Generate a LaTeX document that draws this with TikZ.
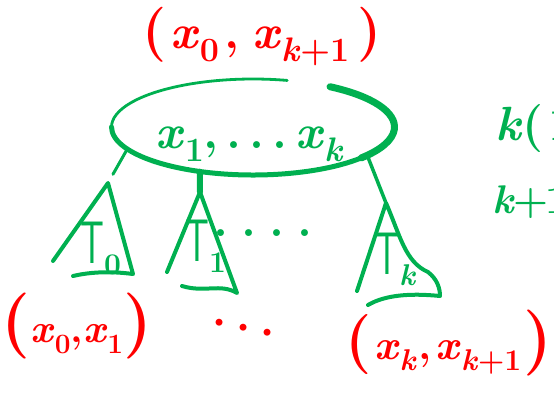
\documentclass[tikz,border=0pt]{standalone}
\usetikzlibrary{shapes.geometric,calc}
\definecolor{pgreen}{RGB}{0,176,80}
\definecolor{pred}{RGB}{255,0,0}
\newcommand{\hwL}[1]{{\fontsize{#1}{#1}\selectfont(}}
\newcommand{\hwR}[1]{{\fontsize{#1}{#1}\selectfont)}}
\newcommand{\hwsub}[2]{\raisebox{-0.28em}{\fontsize{#1}{#1}\selectfont #2}}
\newcommand{\hwT}{\scalebox{0.62}[1]{\fontsize{60}{60}\selectfont\sffamily\mdseries T}}
\begin{document}
\begin{tikzpicture}[x=1pt,y=-1pt, line cap=round, line join=round,
  gline/.style={draw=pgreen, line width=#1}, gline/.default=4pt,
  glab/.style={text=pgreen, inner sep=0pt, font=\fontsize{48}{48}\selectfont\bfseries},
  tlab/.style={text=pgreen, inner sep=0pt, font=\fontsize{40}{40}\selectfont\bfseries},
  rlab/.style={text=pred, inner sep=0pt, font=\fontsize{48}{48}\selectfont\bfseries},
]
\useasboundingbox (0,0) rectangle (554,392);

% root ellipse
\node[ellipse, minimum width=283pt, minimum height=96pt, inner sep=0pt] (root) at (253,127) {};
\draw[gline=2.8pt] ([shift={(180:141.5 and 48)}]root.center) arc[start angle=180, end angle=284, x radius=141.5, y radius=48];
\draw[gline=7pt] ([shift={(303:141.5 and 48)}]root.center) arc[start angle=303, end angle=400, x radius=141.5, y radius=48];
\draw[gline=5pt] ([shift={(40:141.5 and 48)}]root.center) arc[start angle=40, end angle=180, x radius=141.5, y radius=48];
\node[glab, anchor=base] (roottext) at (250,148) {\textit{x}\hwsub{34}{1},\hspace{8pt}.\hspace{8pt}.\hspace{8pt}.\hspace{8pt}\textit{x}\hwsub{34}{\textit{k}}};

% apexes
\coordinate (a0) at (108,183);
\coordinate (a1) at (200,192);
\coordinate (ak) at (386,203);

% connectors
\draw[gline=3pt, shorten >=10pt] (root.190) -- (a0);
\draw[gline=6pt] (root.220) -- (a1);
\draw[gline=3.5pt] (root.346) -- (ak);

% subtrees
\draw[gline] (53,261) -- (a0) -- (133,274) .. controls (110,271) and (90,272) .. (73,276);
\draw[gline] (167,272) -- (a1) -- (237,293) .. controls (220,283) and (205,293) .. (182,286);
\draw[gline] (357,291) -- (ak) .. controls (400,235) and (405,262) .. (428,272)
  .. controls (437,279) and (440,288) .. (440,296) .. controls (410,293) and (385,295) .. (368,305);

\node[tlab, anchor=base west] (t0) at (80,263) {\hwT\hwsub{30}{0}};
\node[tlab, anchor=base west] (t1) at (185,261) {\hwT\hwsub{30}{1}};
\node[tlab, anchor=base west] (tk) at (375,274) {\hwT\hwsub{30}{\textit{k}}};

\node[glab] (gdots) at (263,233) {.\hspace{13pt}.\hspace{13pt}.\hspace{13pt}.};
\node[rlab, rotate=-12] (rdots) at (244,328) {.\hspace{9.5pt}.\hspace{9.5pt}.};

% red labels
\node[rlab, anchor=base] (top) at (262,48) {\hwL{55}\hspace{4pt}\textit{x}\hwsub{34}{0}\hspace{6pt},\hspace{12pt}\textit{x}\hwsub{34}{\textit{k}+1}\hspace{8pt}\hwR{55}};
\node[rlab, anchor=base, font=\fontsize{40}{40}\selectfont\bfseries] (bl) at (77,342) {\hwL{66}\textit{x}\hwsub{28}{0},\textit{x}\hwsub{28}{1}\hwR{66}};
\node[rlab, anchor=base, font=\fontsize{42}{42}\selectfont\bfseries] (br) at (449,359) {\hwL{60}\hspace{2pt}\textit{x}\hwsub{30}{\textit{k}}\hspace{2pt},\hspace{4pt}\textit{x}\hwsub{30}{\textit{k}+1}\hspace{2pt}\hwR{66}};

% cut-off notes at right
\node[glab, anchor=base west] (n1) at (495,140) {\textit{k}(\hspace{5pt}1};
\node[glab, anchor=base west, font=\fontsize{40}{40}\selectfont\bfseries] (n2) at (492,213) {\textit{k}\hspace{-1pt}+\hspace{-3pt}1};
\end{tikzpicture}
\end{document}
